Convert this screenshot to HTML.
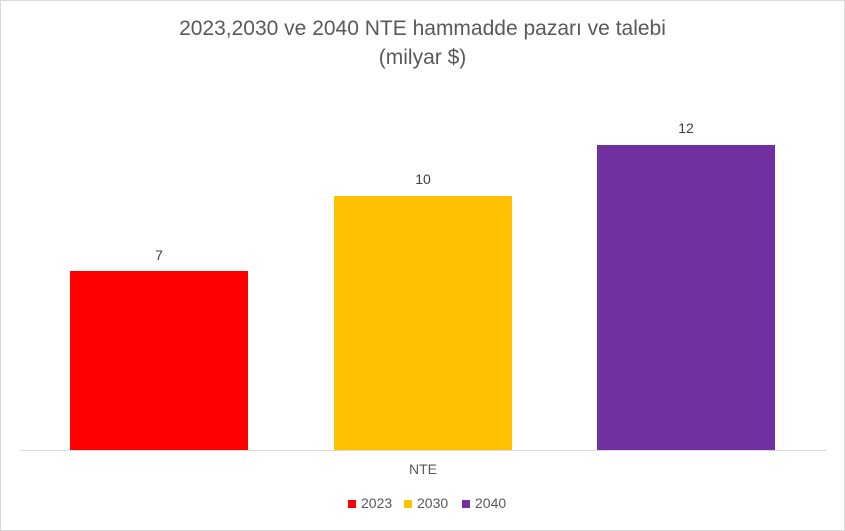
<!DOCTYPE html>
<html><head><style>
body{margin:0;width:845px;height:531px;background:#fff;font-family:"Liberation Sans",sans-serif;overflow:hidden}
.f{position:absolute;left:0;top:0;width:843px;height:529px;border:1px solid #d9d9d9}
.t{position:absolute;left:0;width:845px;text-align:center;color:#595959;font-size:21px}
.b{position:absolute;width:178px}
.l{position:absolute;font-size:14px;color:#404040;text-align:center;width:60px}
.g{position:absolute;font-size:14px;color:#595959}
.s{position:absolute;width:8px;height:8px;top:500px}
</style></head><body>
<div class="f"></div>
<div class="t" style="top:17px">2023,2030 ve 2040 NTE hammadde pazarı ve talebi</div>
<div class="t" style="top:46px">(milyar $)</div>
<div class="b" style="left:70px;top:271px;height:179px;background:#ff0000"></div>
<div class="b" style="left:334px;top:196px;height:254px;background:#ffc000"></div>
<div class="b" style="left:597px;top:145px;height:305px;background:#7030a0"></div>
<div style="position:absolute;left:20px;top:450px;width:806px;height:1px;background:#d9d9d9"></div>
<div class="l" style="left:129px;top:247px">7</div>
<div class="l" style="left:393px;top:171px">10</div>
<div class="l" style="left:656px;top:120px">12</div>
<div class="g" style="left:409px;top:461px">NTE</div>
<div class="s" style="left:348px;background:#ff0000"></div><div class="g" style="left:361px;top:495px">2023</div>
<div class="s" style="left:404px;background:#ffc000"></div><div class="g" style="left:417px;top:495px">2030</div>
<div class="s" style="left:462px;background:#7030a0"></div><div class="g" style="left:475px;top:495px">2040</div>
</body></html>
